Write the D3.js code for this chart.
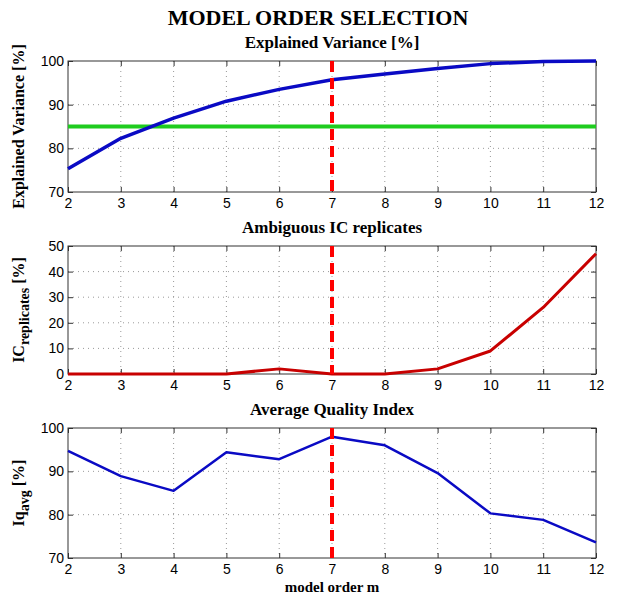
<!DOCTYPE html>
<html>
<head>
<meta charset="utf-8">
<script src="https://cdn.jsdelivr.net/npm/d3@7"></script>
<style>
  body { margin: 0; background: #fff; }
  .tick text { font-family: "Liberation Sans", Arial, sans-serif; font-size: 14px; fill: #000; }
  .serif { font-family: "Liberation Serif", "Times New Roman", serif; font-weight: bold; fill: #000; }
</style>
</head>
<body>
<svg id="chart" width="618" height="597"></svg>
<script>
// data
const modelOrders = [2, 3, 4, 5, 6, 7, 8, 9, 10, 11, 12]
const explainedVariance = [75.3, 82.3, 86.9, 90.8, 93.5, 95.7, 97.0, 98.3, 99.4, 99.9, 100]
const varianceThreshold = 85
const icReplicates = [0, 0, 0, 0, 2, 0, 0, 2, 9, 26, 47]
const qualityIndex = [94.7, 88.9, 85.5, 94.4, 92.8, 98.0, 96.0, 89.6, 80.3, 78.8, 73.6]
const selectedOrder = 7

const varianceTicks = [70, 80, 90, 100]
const replicateTicks = [0, 10, 20, 30, 40, 50]
const qualityTicks = [70, 80, 90, 100]

const svg = d3.select('#chart')
const left = 68, right = 596

const x = d3.scaleLinear().domain([2, 12]).range([left, right])

// one entry per subplot
const panels = [
  { title: 'Explained Variance [%]', top: 61, bottom: 192, domain: [70, 100], ticks: varianceTicks,
    values: explainedVariance, color: '#0a0ac4', width: 3.5, label: ['Explained Variance [%]'] },
  { title: 'Ambiguous IC replicates', top: 246, bottom: 374, domain: [0, 50], ticks: replicateTicks,
    values: icReplicates, color: '#c80000', width: 3, label: ['IC', 'replicates', ' [%]'] },
  { title: 'Average Quality Index', top: 428, bottom: 558, domain: [70, 100], ticks: qualityTicks,
    values: qualityIndex, color: '#0a0ac4', width: 2.5, label: ['Iq', 'avg', ' [%]'] }
]

svg.append('text')
  .attr('class', 'serif')
  .attr('x', 318).attr('y', 25)
  .attr('text-anchor', 'middle')
  .style('font-size', '22px')
  .text('MODEL ORDER SELECTION')

panels.forEach((p, i) => {
  const y = d3.scaleLinear().domain(p.domain).range([p.bottom, p.top])
  const g = svg.append('g')

  // dotted grid
  g.append('g').selectAll('line.gx')
    .data(modelOrders.slice(1, -1))
    .join('line')
    .attr('x1', d => x(d)).attr('x2', d => x(d))
    .attr('y1', p.top).attr('y2', p.bottom)
    .attr('stroke', '#999').attr('stroke-width', 1)
    .attr('stroke-dasharray', '1,4')
  g.append('g').selectAll('line.gy')
    .data(p.ticks.slice(1, -1))
    .join('line')
    .attr('x1', left).attr('x2', right)
    .attr('y1', d => y(d)).attr('y2', d => y(d))
    .attr('stroke', '#999').attr('stroke-width', 1)
    .attr('stroke-dasharray', '1,4')

  // axes, ticks pointing inward like matlab
  g.append('g').attr('transform', `translate(0,${p.bottom})`)
    .call(d3.axisBottom(x).tickValues(modelOrders).tickFormat(d3.format('d')).tickSizeInner(-5).tickSizeOuter(0).tickPadding(6))
  g.append('g').attr('transform', `translate(${left},0)`)
    .call(d3.axisLeft(y).tickValues(p.ticks).tickSizeInner(-5).tickSizeOuter(0).tickPadding(4))
  g.append('g').attr('transform', `translate(0,${p.top})`)
    .call(d3.axisTop(x).tickValues(modelOrders).tickFormat('').tickSizeInner(-5).tickSizeOuter(0))
  g.append('g').attr('transform', `translate(${right},0)`)
    .call(d3.axisRight(y).tickValues(p.ticks).tickFormat('').tickSizeInner(-5).tickSizeOuter(0))
  g.selectAll('.domain').remove()
  g.selectAll('.tick line').attr('stroke', '#333')

  g.append('rect')
    .attr('x', left).attr('y', p.top)
    .attr('width', right - left).attr('height', p.bottom - p.top)
    .attr('fill', 'none').attr('stroke', '#333').attr('stroke-width', 1)

  // green 85% line only on the first one
  if (i === 0) {
    g.append('line')
      .attr('x1', left).attr('x2', right)
      .attr('y1', y(varianceThreshold)).attr('y2', y(varianceThreshold))
      .attr('stroke', '#1fcc1f').attr('stroke-width', 4)
  }

  const line = d3.line().x((d, j) => x(modelOrders[j])).y(d => y(d))
  g.append('path')
    .datum(p.values)
    .attr('d', line)
    .attr('fill', 'none')
    .attr('stroke', p.color)
    .attr('stroke-width', p.width)
    .attr('stroke-linejoin', 'round')

  g.append('line')
    .attr('x1', x(selectedOrder)).attr('x2', x(selectedOrder))
    .attr('y1', p.top).attr('y2', p.bottom)
    .attr('stroke', '#ff0000').attr('stroke-width', 4)
    .attr('stroke-dasharray', '11,6')

  g.append('text')
    .attr('class', 'serif')
    .attr('x', (left + right) / 2).attr('y', p.top - 13)
    .attr('text-anchor', 'middle')
    .style('font-size', '17px')
    .text(p.title)

  const lab = g.append('text')
    .attr('class', 'serif')
    .attr('transform', `translate(24,${(p.top + p.bottom) / 2}) rotate(-90)`)
    .attr('text-anchor', 'middle')
    .style('font-size', '16px')
  lab.append('tspan').text(p.label[0])
  if (p.label.length > 1) {
    lab.append('tspan').attr('dy', 5).style('font-size', '14px').text(p.label[1])
    lab.append('tspan').attr('dy', -5).text(p.label[2])
  }
})

svg.append('text')
  .attr('class', 'serif')
  .attr('x', (left + right) / 2).attr('y', 592)
  .attr('text-anchor', 'middle')
  .style('font-size', '15px')
  .text('model order m')
</script>
</body>
</html>
